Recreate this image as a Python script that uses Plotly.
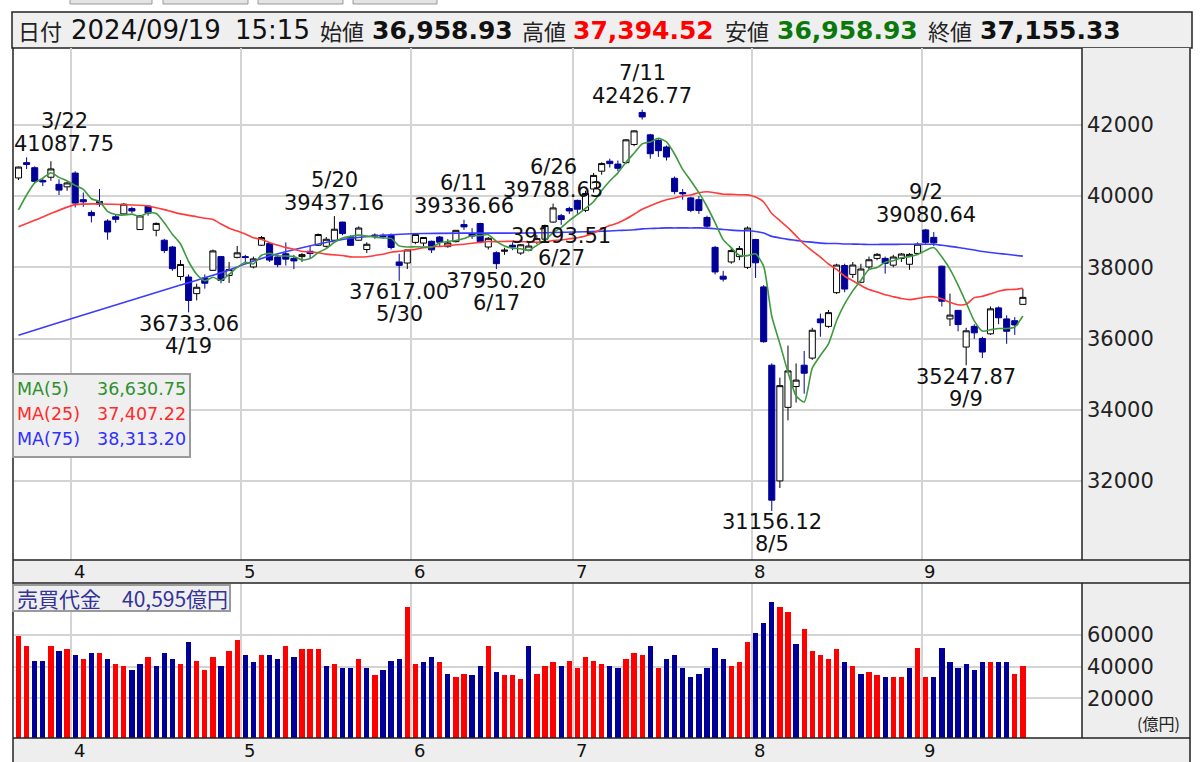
import plotly.graph_objects as go

# ---------------- data ----------------
YEAR = 2024
DATES = [
    "03-21", "03-22", "03-25", "03-26", "03-27", "03-28", "03-29",
    "04-01", "04-02", "04-03", "04-04", "04-05", "04-08", "04-09", "04-10", "04-11", "04-12",
    "04-15", "04-16", "04-17", "04-18", "04-19", "04-22", "04-23", "04-24", "04-25", "04-26", "04-30",
    "05-01", "05-02", "05-07", "05-08", "05-09", "05-10", "05-13", "05-14", "05-15", "05-16", "05-17",
    "05-20", "05-21", "05-22", "05-23", "05-24", "05-27", "05-28", "05-29", "05-30", "05-31",
    "06-03", "06-04", "06-05", "06-06", "06-07", "06-10", "06-11", "06-12", "06-13", "06-14",
    "06-17", "06-18", "06-19", "06-20", "06-21", "06-24", "06-25", "06-26", "06-27", "06-28",
    "07-01", "07-02", "07-03", "07-04", "07-05", "07-08", "07-09", "07-10", "07-11", "07-12",
    "07-16", "07-17", "07-18", "07-19", "07-22", "07-23", "07-24", "07-25", "07-26", "07-29", "07-30", "07-31",
    "08-01", "08-02", "08-05", "08-06", "08-07", "08-08", "08-09", "08-13", "08-14", "08-15", "08-16",
    "08-19", "08-20", "08-21", "08-22", "08-23", "08-26", "08-27", "08-28", "08-29", "08-30",
    "09-02", "09-03", "09-04", "09-05", "09-06", "09-09", "09-10", "09-11", "09-12", "09-13",
    "09-17", "09-18", "09-19",
]

OPEN = [
    40510, 40940, 40798, 40440, 40530, 40330, 40260,
    40646, 39900, 39540, 39850, 39300, 39420, 39500, 39650, 39060, 39720,
    39040, 38760, 38570, 37740, 37727, 37260, 37700, 37915, 38300, 37770, 38280,
    38300, 38010, 38620, 38666, 38290, 38380, 38250, 38300, 38450, 38620, 38590,
    38760, 39270, 38860, 38760, 38500, 38880, 38900, 38900, 38150, 38120,
    38700, 38680, 38730, 38850, 38580, 38720, 39200, 38950, 39230, 38570,
    38410, 38450, 38620, 38400, 38480, 38700, 38790, 39270, 39450, 39650,
    39880, 39600, 40200, 40700, 40980, 40900, 40940, 41450, 42350, 41720,
    41560, 41380, 40500, 40100, 39950, 39900, 39400, 38560, 37750, 38150, 38300, 38000,
    38780, 37450, 35250, 32000, 34066, 34650, 35250, 35450, 36550, 36340, 37287,
    38050, 37800, 37580, 38010, 38250, 38250, 38060, 38250, 38085, 38390,
    39050, 38840, 38030, 36550, 36790, 35760, 36340, 36000, 36132, 36860,
    36550, 36500, 36958.93,
]
HIGH = [
    40830, 41087.75, 40837, 40500, 40979, 40470, 40400,
    40697, 40100, 39600, 40200, 39350, 39470, 39800, 39700, 39470, 39740,
    39260, 38800, 38600, 38200, 37800, 37540, 37800, 38500, 38320, 38150, 38600,
    38350, 38300, 38880, 38700, 38350, 38700, 38350, 38400, 38600, 38950, 38850,
    39437.16, 39280, 38900, 39150, 38700, 38950, 38950, 38950, 38380, 38500,
    38950, 38850, 38750, 38880, 38790, 39050, 39336.66, 39100, 39250, 38850,
    38450, 38550, 38700, 38650, 38700, 38900, 39200, 39788.63, 39500, 39700,
    39900, 40150, 40650, 40950, 41050, 41000, 41600, 41850, 42426.77, 41750,
    41600, 41420, 40550, 40200, 39980, 40000, 39450, 38600, 37900, 38550, 38600, 39150,
    38800, 37500, 35300, 34900, 35800, 35300, 35650, 36300, 36700, 36800, 38100,
    38100, 38150, 38100, 38300, 38400, 38300, 38350, 38400, 38400, 38700,
    39080.64, 38990, 38050, 37260, 36800, 36300, 36400, 36050, 36900, 36900,
    36650, 36600, 37394.52,
]
LOW = [
    40450, 40760, 40361, 40280, 40430, 40030, 40150,
    39682, 39700, 39260, 39700, 38774, 39250, 39480, 39520, 39050, 39450,
    38870, 38400, 37900, 37630, 36733.06, 37070, 37400, 37900, 37550, 37560, 38250,
    38100, 37970, 38600, 38150, 38000, 38050, 37950, 38150, 38250, 38600, 38550,
    38750, 38900, 38600, 38750, 38400, 38800, 38800, 38500, 37617.00, 37950,
    38650, 38600, 38400, 38600, 38550, 38700, 39050, 38800, 38700, 38500,
    37950.20, 38350, 38480, 38350, 38450, 38650, 38750, 39250, 39193.51, 39500,
    39500, 39550, 40100, 40600, 40800, 40700, 40900, 41400, 42150, 41050,
    41100, 41000, 40050, 39900, 39550, 39500, 39100, 37800, 37600, 38100, 38200, 37950,
    37700, 35880, 31156.12, 31800, 33700, 34200, 34450, 35400, 36050, 36300, 37250,
    37300, 37700, 37550, 37950, 38200, 37820, 38000, 38150, 37930, 38350,
    38650, 38600, 36900, 36350, 36200, 35247.87, 35990, 35450, 36100, 36400,
    35850, 36100, 36958.93,
]
CLOSE = [
    40815.66, 40888.43, 40414.12, 40398.03, 40762.73, 40168.07, 40369.44,
    39803.09, 39838.91, 39451.85, 39773.13, 38992.08, 39347.04, 39773.14, 39581.81, 39442.63, 39523.55,
    39232.80, 38471.20, 37961.80, 38079.70, 37068.35, 37438.61, 37552.16, 38460.08, 37628.48, 37934.76, 38405.66,
    38274.05, 38236.07, 38835.10, 38202.37, 38073.98, 38229.11, 38179.46, 38356.06, 38385.73, 38920.26, 38787.38,
    39069.68, 38946.93, 38617.10, 39103.22, 38646.11, 38900.02, 38855.37, 38556.87, 38054.13, 38487.90,
    38923.03, 38837.46, 38490.17, 38703.51, 38683.93, 39038.16, 39134.79, 38876.71, 38720.47, 38814.56,
    38102.44, 38482.11, 38570.76, 38633.02, 38596.47, 38804.65, 39173.15, 39667.07, 39341.54, 39583.08,
    39631.06, 40074.69, 40580.76, 40913.65, 40912.37, 40780.70, 41580.17, 41831.99, 42224.02, 41190.68,
    41275.08, 41097.69, 40126.35, 40063.79, 39599.00, 39594.39, 39154.85, 37869.51, 37667.41, 38468.63, 38525.95, 39101.82,
    38126.33, 35909.70, 31458.42, 34675.46, 35089.62, 34831.15, 35025.00, 36232.51, 36442.43, 36726.64, 38062.67,
    37388.62, 38062.92, 37951.80, 38211.01, 38364.27, 38110.22, 38288.62, 38371.76, 38362.53, 38647.75,
    38700.87, 38686.31, 37047.61, 36657.09, 36391.47, 36215.75, 36159.16, 35619.77, 36833.27, 36581.76,
    36203.22, 36380.17, 37155.33,
]
PREV_CLOSE = 40003.60  # close of the day before the first candle (sets the colour of the first volume bar)

VOLUME = [  # 売買代金 (億円)
    59400, 53300, 43800, 43800, 53300, 49700, 51000, 47400, 45100, 48400,
    48400, 45100, 41500, 40200, 37900, 41500, 46100, 40200, 48400, 45100,
    41500, 55600, 43800, 37900, 46100, 40200, 49700, 56800, 47400, 42700,
    47400, 47400, 45100, 53300, 46100, 51000, 51000, 51000, 40200, 41500,
    39200, 39200, 45100, 39200, 34500, 37900, 43800, 45100, 77900, 41500,
    42700, 46100, 42700, 35600, 33300, 35600, 34500, 40200, 53300, 36800,
    34500, 34500, 32000,
    53300, 35600, 40200, 42700, 40200, 43800, 39200, 46100, 43800, 41500,
    40200, 39200, 45100, 48400, 47400, 53300, 39200, 45100, 47400, 39200,
    33300, 35600, 39200, 52000, 45100, 40200, 42700, 55600, 61500, 67400,
    80600, 77900, 74700, 54300, 63800, 49700, 47400, 45100, 51000, 42700,
    40200, 35600, 36800, 34500, 33300, 33300, 33300, 39200, 52000, 33300,
    33300, 52000, 42700, 39200, 41500, 37900, 42700, 42700, 42700, 42700,
    35600, 40595,
]

MA5_EARLY = [39615, 40031, 40372, 40504]                       # days 0..3
MA25_EARLY_IDX = [0, 2, 4, 7, 10, 14, 16, 18, 20, 22, 23]
MA25_EARLY_VAL = [39140, 39320, 39510, 39760, 39780, 39750, 39720, 39620, 39500, 39420, 39380]
MA75_EARLY_IDX = [0, 5, 10, 15, 20, 25, 30, 35, 40, 45, 50, 55, 60, 65, 70, 73]
MA75_EARLY_VAL = [36090, 36450, 36800, 37150, 37500, 37850, 38250, 38550, 38780, 38900,
                  38950, 38960, 38960, 38970, 39000, 39020]

PRICE_TICKS = [32000, 34000, 36000, 38000, 40000, 42000]
VOL_TICKS = [20000, 40000, 60000]
EXTREMES = [("03-22", "high"), ("04-19", "low"), ("05-20", "high"), ("05-30", "low"),
            ("06-11", "high"), ("06-17", "low"), ("06-26", "high"), ("06-27", "low"),
            ("07-11", "high"), ("08-05", "low"), ("09-02", "high"), ("09-09", "low")]
HEADER_TIME = "15:15"

# ---------------- layout constants ----------------
W, HP = 1200, 762
X_RANGE = [-0.556, 131.3]
PRICE_RANGE = [29778, 44160]
VOL_RANGE = [-5070, 92840]
FONT_L = "DejaVu Sans, Noto Sans CJK JP"
FONT_J = "Noto Sans CJK JP, DejaVu Sans"
UP_LINE, UP_FILL, DOWN = "#000000", "#ffffff", "#000099"
VOL_UP, VOL_DOWN = "#ff0000", "#000099"
MA_COLORS = ["#3d9a3d", "#ff3b3b", "#3b3bff"]
MA_TEXT = ["#2f8f2f", "#ff2a2a", "#3030ff"]
GRID = "#d4d4d4"
PANEL = "#eeeeee"


def px(x):
    return x / W


def py(y):
    return 1 - y / HP


n = len(CLOSE)
idx = list(range(n))

# moving averages
ma5_x = list(range(len(MA5_EARLY))) + list(range(len(MA5_EARLY), n))
ma5_y = MA5_EARLY + [sum(CLOSE[i - 4:i + 1]) / 5 for i in range(len(MA5_EARLY), n)]
ma25_x = MA25_EARLY_IDX + list(range(24, n))
ma25_y = MA25_EARLY_VAL + [sum(CLOSE[i - 24:i + 1]) / 25 for i in range(24, n)]
ma75_x = MA75_EARLY_IDX + list(range(74, n))
ma75_y = MA75_EARLY_VAL + [sum(CLOSE[i - 74:i + 1]) / 75 for i in range(74, n)]

fig = go.Figure()

fig.add_trace(go.Candlestick(
    x=idx, open=OPEN, high=HIGH, low=LOW, close=CLOSE,
    increasing=dict(line=dict(color=UP_LINE, width=1), fillcolor=UP_FILL),
    decreasing=dict(line=dict(color=DOWN, width=1), fillcolor=DOWN),
    whiskerwidth=0, hoverinfo="skip", showlegend=False, xaxis="x", yaxis="y",
))
for xs, ys, col in [(ma75_x, ma75_y, MA_COLORS[2]), (ma25_x, ma25_y, MA_COLORS[1]), (ma5_x, ma5_y, MA_COLORS[0])]:
    fig.add_trace(go.Scatter(x=xs, y=ys, mode="lines", line=dict(color=col, width=1.6, shape="spline", smoothing=0.6),
                             hoverinfo="skip", showlegend=False, xaxis="x", yaxis="y"))

prev = [PREV_CLOSE] + CLOSE[:-1]
vol_colors = [VOL_UP if c >= p else VOL_DOWN for c, p in zip(CLOSE, prev)]
fig.add_trace(go.Bar(
    x=idx, y=[v - VOL_RANGE[0] for v in VOLUME], base=VOL_RANGE[0], width=0.66,
    marker=dict(color=vol_colors, line=dict(width=0)),
    hoverinfo="skip", showlegend=False, xaxis="x2", yaxis="y2",
))

# month boundaries
bounds, months = [], []
for i in range(1, n):
    if DATES[i][:2] != DATES[i - 1][:2]:
        bounds.append(i - 0.5)
        months.append(str(int(DATES[i][:2])))

shapes = []
# tabs at top
for x0, x1 in [(70, 152), (163, 248), (258, 343), (353, 437)]:
    shapes.append(dict(type="rect", xref="paper", yref="paper", x0=px(x0), x1=px(x1), y0=py(4), y1=py(-4),
                       fillcolor="#e4e4e4", line=dict(color="#999999", width=1), layer="below"))
# header
shapes.append(dict(type="rect", xref="paper", yref="paper", x0=px(12), x1=px(1192), y0=py(48), y1=py(12),
                   fillcolor="#efefef", line=dict(color="#222222", width=1.5), layer="below"))
# right axis panels and date strips
for x0, x1, y0, y1 in [(1082, 1191, 48, 560), (1082, 1191, 583, 738), (13, 1191, 560, 583), (13, 1191, 738, 763)]:
    shapes.append(dict(type="rect", xref="paper", yref="paper", x0=px(x0), x1=px(x1), y0=py(y1), y1=py(y0),
                       fillcolor=PANEL, line=dict(width=0), layer="below"))
# borders
for x0, y0, x1, y1 in [(13, 48, 13, 762), (1190, 48, 1190, 762), (1082, 48, 1082, 560), (1082, 583, 1082, 738),
                       (13, 560, 1190, 560), (13, 583, 1190, 583), (13, 738, 1190, 738)]:
    shapes.append(dict(type="line", xref="paper", yref="paper", x0=px(x0), x1=px(x1), y0=py(y0), y1=py(y1),
                       line=dict(color="#222222", width=1.5), layer="above"))
# MA legend box and volume label box
shapes.append(dict(type="rect", xref="paper", yref="paper", x0=px(13), x1=px(190), y0=py(457), y1=py(374),
                   fillcolor="#efefef", line=dict(color="#9a9a9a", width=2), layer="above"))
shapes.append(dict(type="rect", xref="paper", yref="paper", x0=px(13), x1=px(230), y0=py(611), y1=py(585),
                   fillcolor="#efefef", line=dict(color="#9a9a9a", width=2), layer="above"))

ann = []
# header
last = n - 1
hdr_y = py(30)
header = [
    ("日付", 16, FONT_J, 22, "#222222", False),
    (f"{YEAR}/{DATES[last][:2]}/{DATES[last][3:]}", 69, FONT_L, 26, "#111111", False),
    (HEADER_TIME, 233, FONT_L, 26, "#111111", False),
    ("始値", 318, FONT_J, 22, "#222222", False),
    (f"{OPEN[last]:,.2f}", 370, FONT_L, 25, "#111111", True),
    ("高値", 520, FONT_J, 22, "#222222", False),
    (f"{HIGH[last]:,.2f}", 571, FONT_L, 25, "#ff0000", True),
    ("安値", 723, FONT_J, 22, "#222222", False),
    (f"{LOW[last]:,.2f}", 775, FONT_L, 25, "#0b780b", True),
    ("終値", 926, FONT_J, 22, "#222222", False),
    (f"{CLOSE[last]:,.2f}", 978, FONT_L, 25, "#111111", True),
]
for txt, x, fam, size, col, bold in header:
    t = f"<b>{txt}</b>" if bold else txt
    ann.append(dict(text=t, xref="paper", yref="paper", x=px(x), y=hdr_y, xanchor="left", yanchor="middle",
                    showarrow=False, font=dict(family=fam, size=size, color=col)))

# extreme labels
LBL_SIZE = 21
for d, kind in EXTREMES:
    i = DATES.index(d)
    val = HIGH[i] if kind == "high" else LOW[i]
    vtxt = f"{val:.2f}"
    dtxt = f"{int(d[:2])}/{int(d[3:])}"
    half = len(vtxt) * 0.6 * LBL_SIZE / 2 / 8.1
    xc = max(i, X_RANGE[0] + half)
    if kind == "high":
        shifts = [(vtxt, 13.5), (dtxt, 36.5)]
    else:
        shifts = [(vtxt, -11.5), (dtxt, -33.5)]
    for t, s in shifts:
        ann.append(dict(text=t, xref="x", yref="y", x=xc, y=val, yshift=s, xanchor="center", yanchor="middle",
                        showarrow=False, font=dict(family=FONT_L, size=LBL_SIZE, color="#111111")))

# month labels in both strips
for b, m in zip(bounds, months):
    for yy in (py(571.5), py(750)):
        ann.append(dict(text=m, xref="x", yref="paper", x=b, xshift=8, y=yy, xanchor="center", yanchor="middle",
                        showarrow=False, font=dict(family=FONT_L, size=18, color="#111111")))

# MA legend
for (name, vals), col, yy in zip([("MA(5)", ma5_y), ("MA(25)", ma25_y), ("MA(75)", ma75_y)], MA_TEXT, [389, 414, 439]):
    ann.append(dict(text=name, xref="paper", yref="paper", x=px(15), y=py(yy), xanchor="left", yanchor="middle",
                    showarrow=False, font=dict(family=FONT_L, size=17.5, color=col)))
    ann.append(dict(text=f"{vals[-1]:,.2f}", xref="paper", yref="paper", x=px(188), y=py(yy), xanchor="right",
                    yanchor="middle", showarrow=False, font=dict(family=FONT_L, size=17.5, color=col)))

# volume label
ann.append(dict(text=f"売買代金　{VOLUME[-1]:,}億円", xref="paper", yref="paper", x=px(15), y=py(598),
                xanchor="left", yanchor="middle", showarrow=False,
                font=dict(family=FONT_J, size=21, color="#33339a")))
ann.append(dict(text="(億円)", xref="paper", yref="paper", x=px(1182), y=py(723), xanchor="right",
                yanchor="middle", showarrow=False, font=dict(family=FONT_J, size=16, color="#222222")))

axis_common = dict(showline=False, zeroline=False, ticks="", fixedrange=True)
fig.update_layout(
    width=W, height=HP, margin=dict(l=0, r=0, t=0, b=0),
    paper_bgcolor="white", plot_bgcolor="white", showlegend=False,
    xaxis=dict(domain=[px(14), px(1082)], range=X_RANGE, anchor="y", tickvals=bounds, showticklabels=False,
               showgrid=True, gridcolor=GRID, gridwidth=1.6, rangeslider=dict(visible=False), **axis_common),
    xaxis2=dict(domain=[px(14), px(1082)], range=X_RANGE, anchor="y2", matches="x", tickvals=bounds,
                showticklabels=False, showgrid=True, gridcolor=GRID, gridwidth=1.6, **axis_common),
    yaxis=dict(domain=[py(560), py(48)], range=PRICE_RANGE, anchor="x", side="right", tickvals=PRICE_TICKS,
               ticktext=[str(t) for t in PRICE_TICKS], showgrid=True, gridcolor=GRID, gridwidth=1.6,
               tickfont=dict(family=FONT_L, size=21, color="#222222"), ticklabelstandoff=4, **axis_common),
    yaxis2=dict(domain=[py(738), py(583)], range=VOL_RANGE, anchor="x2", side="right", tickvals=VOL_TICKS,
                ticktext=[str(t) for t in VOL_TICKS], showgrid=True, gridcolor=GRID, gridwidth=1.6,
                tickfont=dict(family=FONT_L, size=21, color="#222222"), ticklabelstandoff=4, **axis_common),
    shapes=shapes, annotations=ann, bargap=0, boxgap=0.25, boxgroupgap=0,
)

fig.write_html(
    "out.html",
    config={"displayModeBar": False},
    post_script="document.body.style.margin='0';document.body.style.overflow='hidden';",
)
